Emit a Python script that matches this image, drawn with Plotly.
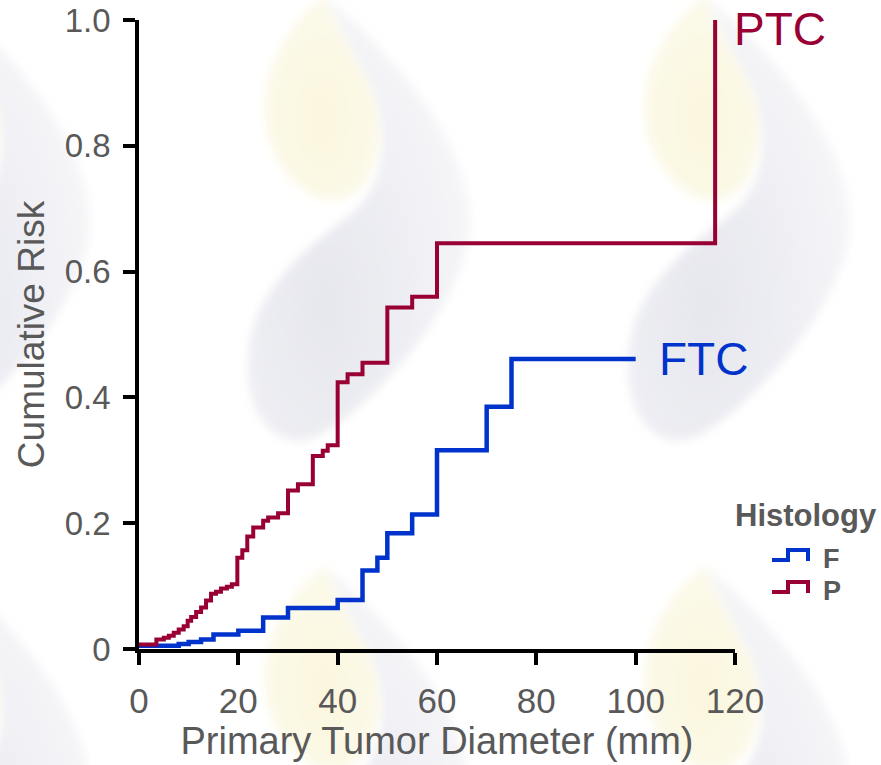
import base64
import plotly.graph_objects as go

# ---------------- data ----------------
F_x = [0, 8, 10, 12.5, 15, 20, 25, 30, 40, 45, 48, 50, 55, 60, 70, 75, 100]
F_y = [0.005, 0.008, 0.011, 0.015, 0.023, 0.029, 0.050, 0.065, 0.078, 0.125,
       0.145, 0.184, 0.214, 0.316, 0.385, 0.461, 0.461]

P_x = [0, 3.5, 5, 6, 7, 8, 9, 9.8, 10.5, 11.5, 12.5, 13.5, 14.5, 15.5, 16.5,
       17.7, 18.7, 19.8, 20.8, 21.8, 23, 25, 26, 28, 30, 32, 35, 37, 38, 40,
       42, 45, 50, 55, 60, 116]
P_y = [0.007, 0.015, 0.018, 0.021, 0.026, 0.031, 0.036, 0.045, 0.051, 0.059,
       0.066, 0.077, 0.088, 0.091, 0.096, 0.099, 0.103, 0.145, 0.157, 0.179,
       0.193, 0.204, 0.209, 0.216, 0.252, 0.262, 0.307, 0.315, 0.324, 0.424,
       0.437, 0.455, 0.543, 0.560, 0.645, 1.0]

x_ticks = [0, 20, 40, 60, 80, 100, 120]
y_ticks = [0, 0.2, 0.4, 0.6, 0.8, 1.0]
y_tick_text = ["0", "0.2", "0.4", "0.6", "0.8", "1.0"]

legend_title = "Histology"
legend_names = ["F", "P"]
series_labels = ["FTC", "PTC"]

BLUE = "#0033cc"
RED = "#990033"
GREY = "#595959"
FONT = "Liberation Sans, Arial, sans-serif"

W, H = 881, 765
ML, MR, MT, MB = 139, 146, 20, 116
PW, PH = W - ML - MR, H - MT - MB


def px(xp):
    return (xp - ML) / PW


def py(yp):
    return (H - MB - yp) / PH


# ---------------- faint watermark (background decoration) ----------------
yellow = "M 65,-5 C 20,30 0,80 5,120 C 10,170 50,205 80,200 C 120,190 125,130 115,100 C 105,70 80,40 65,-5 Z"
grey = ("M 65,-5 C 140,60 215,150 210,230 C 205,300 120,400 60,435 C 20,455 -15,420 -12,360 "
        "C -10,300 30,260 90,215 C 120,190 130,150 115,100 C 105,70 80,40 65,-5 Z")
tiles = []
for ox in (-120, 260, 640):
    for oy in (0, 570):
        tiles.append(
            f'<g transform="translate({ox},{oy})">'
            f'<path d="{grey}" fill="url(#gg)" filter="url(#b)"/>'
            f'<path d="{yellow}" fill="url(#yg)" filter="url(#b)"/>'
            f'</g>'
        )
svg = (f'<svg xmlns="http://www.w3.org/2000/svg" width="{W}" height="{H}" viewBox="0 0 {W} {H}">'
       '<defs><filter id="b"><feGaussianBlur stdDeviation="5"/></filter>'
       '<radialGradient id="gg" cx="0.35" cy="0.7" r="0.75">'
       '<stop offset="0" stop-color="#d8d9e4" stop-opacity="0.65"/>'
       '<stop offset="1" stop-color="#d8d9e4" stop-opacity="0.2"/></radialGradient>'
       '<radialGradient id="yg" cx="0.5" cy="0.6" r="0.7">'
       '<stop offset="0" stop-color="#f7f0c6" stop-opacity="0.6"/>'
       '<stop offset="1" stop-color="#f7f0c6" stop-opacity="0.3"/></radialGradient>'
       '</defs>'
       + "".join(tiles) + '</svg>')
svg_uri = "data:image/svg+xml;base64," + base64.b64encode(svg.encode()).decode()

# ---------------- figure ----------------
fig = go.Figure()
fig.add_trace(go.Scatter(x=F_x, y=F_y, mode="lines", line=dict(color=BLUE, width=4.5, shape="hv"),
                         name=legend_names[0], showlegend=False, hoverinfo="skip"))
fig.add_trace(go.Scatter(x=P_x, y=P_y, mode="lines", line=dict(color=RED, width=4, shape="hv"),
                         name=legend_names[1], showlegend=False, hoverinfo="skip"))

annotations = [
    dict(x=F_x[-1] + 4.3, y=F_y[-1], xref="x", yref="y", text=series_labels[0], showarrow=False,
         xanchor="left", yanchor="middle", font=dict(family=FONT, size=46, color=BLUE)),
    dict(x=P_x[-1] + 3.3, y=0.985, xref="x", yref="y", text=series_labels[1], showarrow=False,
         xanchor="left", yanchor="middle", font=dict(family=FONT, size=46, color=RED)),
    dict(x=px(806), y=py(515), xref="paper", yref="paper", text=f"<b>{legend_title}</b>",
         showarrow=False, xanchor="center", yanchor="middle",
         font=dict(family=FONT, size=31, color=GREY)),
]
shapes = []
for i, (nm, col) in enumerate(zip(legend_names, [BLUE, RED])):
    base = 560 + 32 * i
    top = base - 10
    path = (f"M {px(772)},{py(base)} L {px(788)},{py(base)} L {px(788)},{py(top)} "
            f"L {px(808)},{py(top)} L {px(808)},{py(base + 1)}")
    shapes.append(dict(type="path", xref="paper", yref="paper", path=path,
                       line=dict(color=col, width=4)))
    annotations.append(dict(x=px(821), y=py(base - 1), xref="paper", yref="paper",
                            text=f"<b>{nm}</b>", showarrow=False, xanchor="left", yanchor="middle",
                            font=dict(family=FONT, size=27, color=GREY)))

fig.update_layout(
    width=W, height=H,
    margin=dict(l=ML, r=MR, t=MT, b=MB, autoexpand=False),
    paper_bgcolor="white", plot_bgcolor="rgba(0,0,0,0)",
    font=dict(family=FONT, color=GREY),
    annotations=annotations, shapes=shapes,
    images=[dict(source=svg_uri, xref="paper", yref="paper", x=-ML / PW, y=(H - MB) / PH,
                 sizex=W / PW, sizey=H / PH, xanchor="left", yanchor="top",
                 sizing="stretch", layer="below")],
)
fig.update_xaxes(range=[0, 120], tickvals=x_ticks, showgrid=False, zeroline=False,
                 showline=True, linecolor="black", linewidth=3.5,
                 ticks="outside", ticklen=12, tickwidth=3.5, tickcolor="black",
                 tickfont=dict(family=FONT, size=35, color=GREY), ticklabelstandoff=6,
                 ticklabeloverflow="allow",
                 title=dict(text="Primary Tumor Diameter (mm)", standoff=6,
                            font=dict(family=FONT, size=38, color=GREY)))
fig.update_yaxes(range=[0, 1.0], tickvals=y_ticks, ticktext=y_tick_text, showgrid=False,
                 zeroline=False, showline=True, linecolor="black", linewidth=3.5,
                 ticks="outside", ticklen=12, tickwidth=3.5, tickcolor="black",
                 tickfont=dict(family=FONT, size=33, color=GREY), ticklabelstandoff=6,
                 ticklabeloverflow="allow",
                 title=dict(text="Cumulative Risk", standoff=10,
                            font=dict(family=FONT, size=37, color=GREY)))

fig.write_html("out.html", config={"displayModeBar": False},
               post_script="document.body.style.margin='0';")
